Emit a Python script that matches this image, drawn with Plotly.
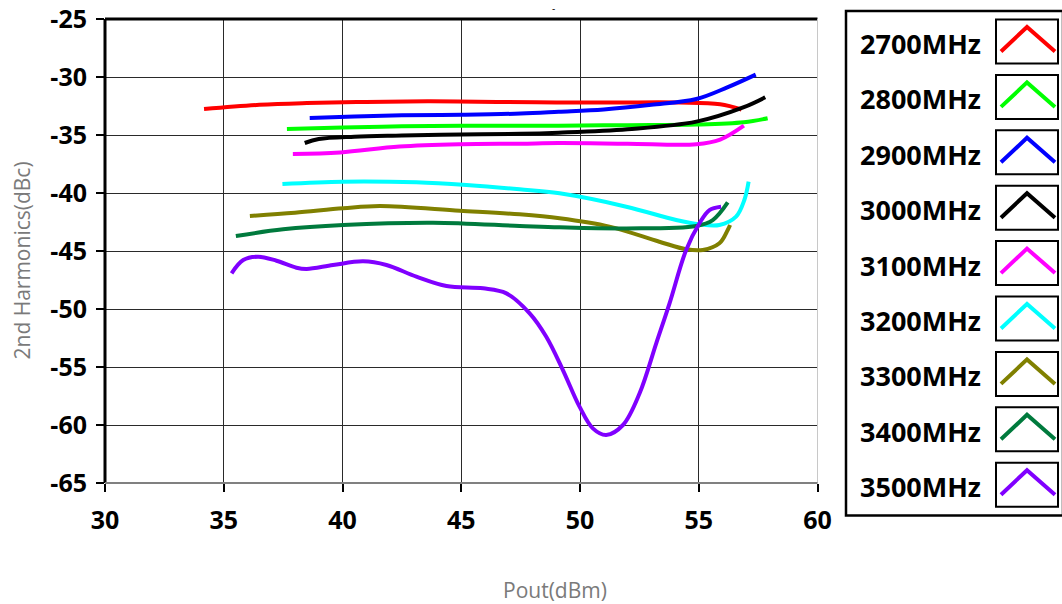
import plotly.graph_objects as go

W, H = 1062, 604

series_names = ["2700MHz", "2800MHz", "2900MHz", "3000MHz", "3100MHz",
                "3200MHz", "3300MHz", "3400MHz", "3500MHz"]
series_colors = ["#ff0000", "#00ff00", "#0000ff", "#000000", "#ff00ff",
                 "#00ffff", "#808000", "#007a3d", "#8000ff"]

x_2700 = [34.17, 36.5, 38.5, 41, 43.7, 46.5, 49, 51.5, 54.2, 55.9, 56.8]
y_2700 = [-32.76, -32.4, -32.25, -32.15, -32.1, -32.15, -32.2, -32.2, -32.2, -32.35, -32.8]

x_2800 = [37.66, 40, 42.5, 45, 47.5, 49.1, 52, 54.9, 56.9, 57.9]
y_2800 = [-34.48, -34.35, -34.25, -34.2, -34.2, -34.2, -34.15, -34.1, -33.9, -33.55]

x_2900 = [38.62, 40.5, 42.5, 45, 47.5, 49.1, 51, 53, 54.9, 56.2, 57.4]
y_2900 = [-33.53, -33.4, -33.3, -33.25, -33.15, -33.0, -32.8, -32.4, -31.9, -30.9, -29.8]

x_3000 = [38.41, 39.0, 40.5, 42.5, 45, 47.5, 49.1, 52, 54.9, 56.9, 57.8]
y_3000 = [-35.69, -35.35, -35.15, -35.05, -34.95, -34.9, -34.8, -34.5, -33.85, -32.6, -31.75]

x_3100 = [37.91, 39.9, 42.4, 45, 47.5, 49.1, 52, 54.9, 55.9, 56.9]
y_3100 = [-36.64, -36.5, -36.0, -35.8, -35.75, -35.7, -35.75, -35.8, -35.4, -34.2]

x_3200 = [37.47, 40.03, 43.11, 45.22, 47.46, 49.14, 51.95, 54.05, 55.03, 55.87, 56.57, 56.92, 57.10]
y_3200 = [-39.22, -39.02, -39.08, -39.31, -39.68, -40.03, -41.18, -42.33, -42.7, -42.76, -42.04, -40.6, -39.02]

x_3300 = [36.10, 38, 40.03, 41.57, 44.94, 47.46, 49.14, 51.24, 53.34, 54.47, 55.17, 55.87, 56.22, 56.32]
y_3300 = [-41.98, -41.7, -41.32, -41.12, -41.52, -41.84, -42.18, -42.9, -44.2, -44.85, -44.91, -44.34, -43.19, -42.76]

x_3400 = [35.51, 37.5, 40.03, 43.81, 47.46, 49.14, 51.95, 54.89, 55.59, 56.22]
y_3400 = [-43.71, -43.13, -42.76, -42.56, -42.84, -42.96, -43.05, -42.84, -42.33, -40.81]

x_3500 = [35.33, 35.82, 36.45, 37.22, 38.06, 38.49, 39.60, 40.87, 41.85, 43.11, 44.38, 45.92,
          46.90, 47.88, 48.58, 49.28, 49.98, 50.54, 51.10, 51.81, 52.51, 53.21, 53.77, 54.47,
          55.03, 55.45, 55.94]
y_3500 = [-46.92, -45.78, -45.49, -45.84, -46.44, -46.55, -46.21, -45.89, -46.21, -47.21, -48.02, -48.22,
          -48.65, -50.37, -52.39, -55.26, -58.42, -60.29, -60.86, -60.0, -57.27, -52.96, -49.51, -44.91,
          -42.61, -41.47, -41.18]

xs = [x_2700, x_2800, x_2900, x_3000, x_3100, x_3200, x_3300, x_3400, x_3500]
ys = [y_2700, y_2800, y_2900, y_3000, y_3100, y_3200, y_3300, y_3400, y_3500]

x_ticks = [30, 35, 40, 45, 50, 55, 60]
y_ticks = [-25, -30, -35, -40, -45, -50, -55, -60, -65]

FONT = "Open Sans"

fig = go.Figure()
for name, col, xv, yv in zip(series_names, series_colors, xs, ys):
    fig.add_trace(go.Scatter(x=xv, y=yv, mode="lines", name=name,
                             line=dict(color=col, width=4, shape="spline", smoothing=1.0),
                             showlegend=False))

def px(x):
    return x / W

def py(y):
    return 1 - y / H

plot_l, plot_r, plot_t, plot_b = 105, 817.5, 19, 483

fig.update_layout(
    width=W, height=H,
    margin=dict(l=0, r=0, t=0, b=0, autoexpand=False),
    paper_bgcolor="white", plot_bgcolor="white",
    showlegend=False,
    xaxis=dict(domain=[px(plot_l), px(plot_r)], range=[30, 60], tickvals=x_ticks,
               automargin=False, ticklabelstandoff=7,
               showgrid=True, gridcolor="#2a2a2a", gridwidth=1.3,
               ticks="outside", ticklen=8, tickwidth=2, tickcolor="black",
               showline=False, zeroline=False,
               tickfont=dict(family=FONT, size=25, color="black", weight="bold")),
    yaxis=dict(domain=[py(plot_b), py(plot_t)], range=[-65, -25], tickvals=y_ticks,
               ticktext=[str(v) for v in y_ticks], automargin=False, ticklabelstandoff=4,
               showgrid=True, gridcolor="#2a2a2a", gridwidth=1.3,
               ticks="outside", ticklen=8, tickwidth=2, tickcolor="black",
               showline=False, zeroline=False,
               tickfont=dict(family=FONT, size=25, color="black", weight="bold")),
)

shapes = []
# plot frame
shapes.append(dict(type="line", xref="paper", yref="paper", x0=px(plot_l), x1=px(plot_r),
                   y0=py(plot_t), y1=py(plot_t), line=dict(color="black", width=3)))
shapes.append(dict(type="line", xref="paper", yref="paper", x0=px(plot_l), x1=px(plot_l),
                   y0=py(plot_t), y1=py(plot_b), line=dict(color="black", width=3)))
shapes.append(dict(type="line", xref="paper", yref="paper", x0=px(plot_r), x1=px(plot_r),
                   y0=py(plot_t), y1=py(plot_b), line=dict(color="#c8c8c8", width=1)))
shapes.append(dict(type="line", xref="paper", yref="paper", x0=px(plot_l), x1=px(plot_r),
                   y0=py(plot_b), y1=py(plot_b), line=dict(color="#808080", width=2)))

# legend outer box
shapes.append(dict(type="rect", xref="paper", yref="paper", x0=px(846), x1=px(1063),
                   y0=py(515.5), y1=py(11), line=dict(color="black", width=2.5)))

annotations = []
step = 55.4
for i, (name, col) in enumerate(zip(series_names, series_colors)):
    top = 19.5 + i * step
    shapes.append(dict(type="rect", xref="paper", yref="paper", x0=px(996), x1=px(1058),
                       y0=py(top + 44), y1=py(top), line=dict(color="black", width=2)))
    path = "M {} {} L {} {} L {} {}".format(px(1001), py(top + 32), px(1027), py(top + 7.5),
                                            px(1055), py(top + 32))
    shapes.append(dict(type="path", xref="paper", yref="paper", path=path,
                       line=dict(color=col, width=4)))
    annotations.append(dict(text=name, x=px(858), y=py(top + 24), xref="paper", yref="paper",
                            xanchor="left", yanchor="middle", showarrow=False,
                            font=dict(family=FONT, size=27, color="black", weight="bold")))

annotations.append(dict(text="Pout(dBm)", x=px(554.5), y=py(590), xref="paper", yref="paper",
                        xanchor="center", yanchor="middle", showarrow=False,
                        font=dict(family=FONT, size=21, color="#7a7a7a")))
annotations.append(dict(text="2nd Harmonics(dBc)", x=px(21.5), y=py(261), xref="paper", yref="paper",
                        xanchor="center", yanchor="middle", showarrow=False, textangle=-90,
                        font=dict(family=FONT, size=21, color="#7a7a7a")))
annotations.append(dict(text="-", x=px(553), y=py(8), xref="paper", yref="paper",
                        xanchor="center", yanchor="middle", showarrow=False,
                        font=dict(family=FONT, size=10, color="black")))

fig.update_layout(shapes=shapes, annotations=annotations)

fig.write_html("out.html")
